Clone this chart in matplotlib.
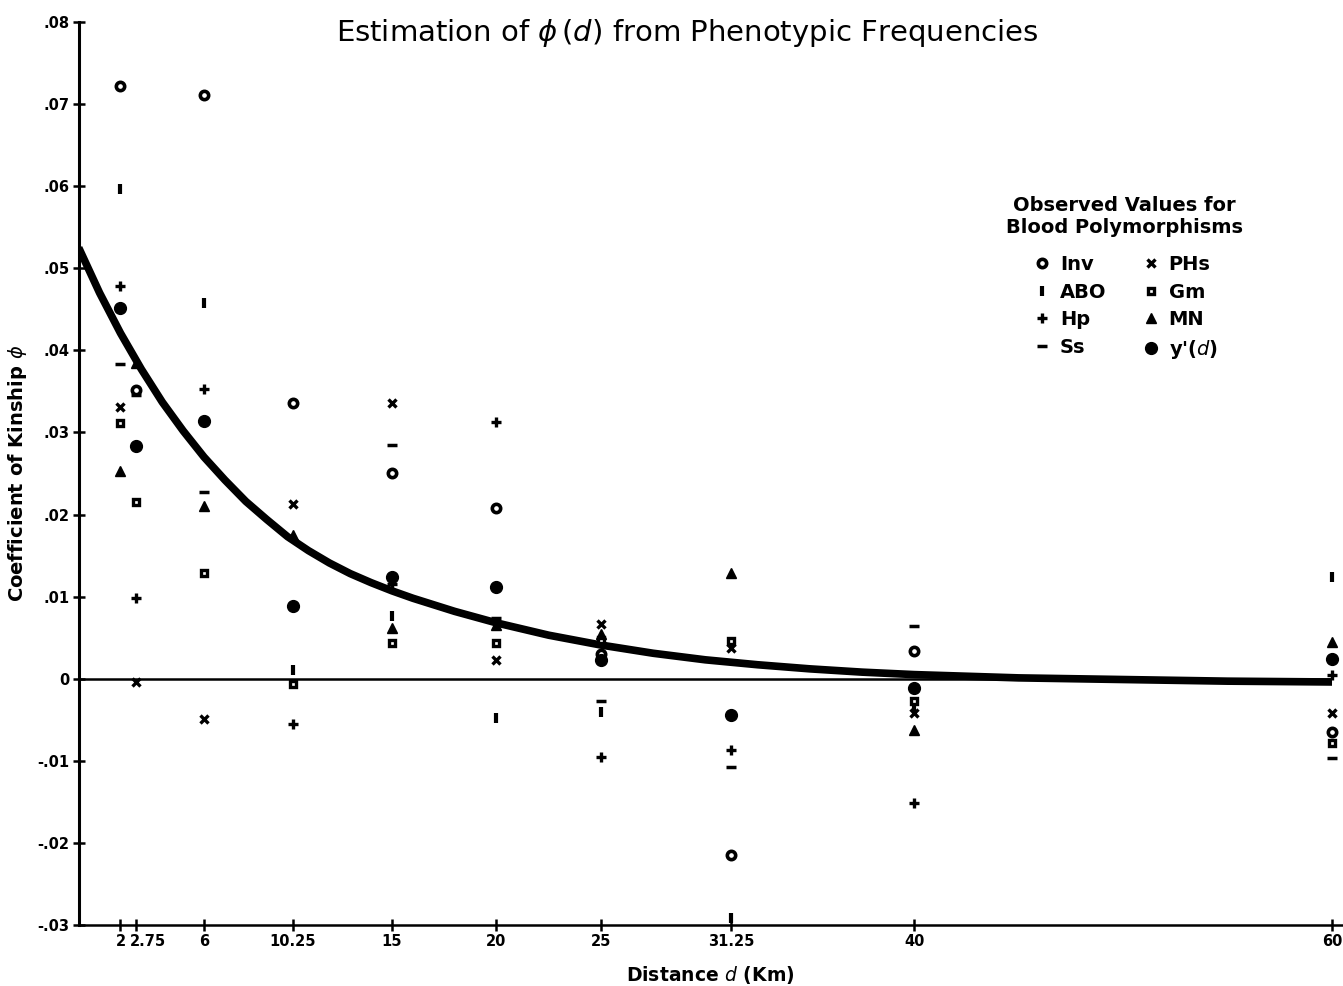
import numpy as np
from matplotlib import pyplot as plt
from matplotlib.lines import Line2D
from matplotlib import transforms

# distances (km) at which the polymorphisms were observed
distances = [2, 2.75, 6, 10.25, 15, 20, 25, 31.25, 40, 60]
nan = np.nan

# observed coefficient of kinship per blood polymorphism
inv = [.0722, .0352, .0711, .0336, .0250, .0208, .0030, -.0215, .0034, -.0065]
abo = [.0596, nan, .0458, .0010, .0076, -.0048, -.0040, -.0291, -.0035, .0124]
hp = [.0478, .0098, .0353, -.0055, .0115, .0313, -.0095, -.0087, -.0151, .0005]
ss = [.0383, .0345, .0228, nan, .0285, .0074, -.0027, -.0108, .0064, -.0096]
phs = [.0331, -.0004, -.0049, .0213, .0336, .0023, .0067, .0037, -.0042, -.0042]
gm = [.0311, .0215, .0129, -.0006, .0044, .0044, .0047, .0046, -.0027, -.0078]
mn = [.0253, .0385, .0210, .0175, .0062, .0065, .0055, .0129, -.0063, .0045]
y_prime = [.0451, .0283, .0314, .0088, .0124, .0112, .0023, -.0044, -.0011, .0024]

# fitted phi(d) curve
curve_d = [0, 1, 2, 3, 4, 5, 6, 7, 8, 9, 10, 11, 12, 13, 14, 15, 16, 17, 18, 19, 20,
           22.5, 25, 27.5, 30, 32.5, 35, 37.5, 40, 42.5, 45, 50, 55, 60]
curve_phi = [.0525, .0470, .0421, .0377, .0337, .0302, .0270, .0242, .0216, .0194, .0173,
             .0156, .0141, .0128, .0117, .0107, .0098, .0090, .0082, .0075, .0068,
             .0053, .0041, .0031, .0023, .0017, .0012, .0008, .0005, .0003, .0001,
             -.0001, -.0003, -.0004]

xtick_vals = [2, 2.75, 6, 10.25, 15, 20, 25, 31.25, 40, 60]
xtick_labels = ['2', '2.75', '6', '10.25', '15', '20', '25', '31.25', '40', '60']
ytick_vals = [.08, .07, .06, .05, .04, .03, .02, .01, 0, -.01, -.02, -.03]
ytick_labels = ['.08', '.07', '.06', '.05', '.04', '.03', '.02', '.01', '0', '-.01', '-.02', '-.03']

fig = plt.figure(figsize=(13.43, 9.86), dpi=100)
ax = fig.add_axes([0.0586, 0.0619, 0.941, 0.9158])

ax.plot(curve_d, curve_phi, color='black', lw=5.5, solid_joinstyle='round', solid_capstyle='butt', zorder=3)
ax.axhline(0, xmin=0, xmax=0.99, color='black', lw=1.8, zorder=2)

styles = [
    ('Inv', inv, dict(marker='o', ms=6, mfc='white', mec='black', mew=2.6)),
    ('ABO', abo, dict(marker='|', ms=7, mec='black', mew=3)),
    ('Hp', hp, dict(marker='+', ms=7.5, mec='black', mew=2.4)),
    ('Ss', ss, dict(marker='_', ms=7, mec='black', mew=2.5)),
    ('PHs', phs, dict(marker='x', ms=5.5, mec='black', mew=2.4)),
    ('Gm', gm, dict(marker='s', ms=5, mfc='white', mec='black', mew=2.4)),
    ('MN', mn, dict(marker='^', ms=7.5, mfc='black', mec='black', mew=1)),
    ("y'(d)", y_prime, dict(marker='o', ms=8.5, mfc='black', mec='black', mew=1)),
]
handles = []
for name, vals, st in styles:
    ax.plot(distances, vals, ls='none', clip_on=False, zorder=4, **st)
    handles.append(Line2D([], [], ls='none', **st))

ax.set_xlim(0, 60.5)
ax.set_ylim(-.03, .08)
ax.set_xticks(xtick_vals)
ax.set_xticklabels(xtick_labels)
ax.set_yticks(ytick_vals)
ax.set_yticklabels(ytick_labels)
ax.tick_params(direction='inout', length=9, width=1.8, labelsize=10.5, pad=2)
for lab in ax.get_xticklabels() + ax.get_yticklabels():
    lab.set_fontweight('bold')
# "2.75" sits just right of its tick so it does not run into "2"
lab275 = ax.get_xticklabels()[1]
lab275.set_ha('left')
lab275.set_transform(lab275.get_transform() + transforms.ScaledTranslation(-6 / 100, 0, fig.dpi_scale_trans))

for s in ['top', 'right']:
    ax.spines[s].set_visible(False)
ax.spines['left'].set_linewidth(2.2)
ax.spines['bottom'].set_linewidth(1.8)

ax.set_xlabel(r'Distance $d$ (Km)', fontsize=13.5, fontweight='bold', labelpad=11)
ax.set_ylabel(r'Coefficient of Kinship $\phi$', fontsize=14, fontweight='bold', labelpad=6)
fig.text(0.512, 0.967, r'Estimation of $\phi\,(d)$ from Phenotypic Frequencies',
         ha='center', va='center', fontsize=21)

labels = [s[0] for s in styles]
labels[-1] = r"y'($\mathit{d}$)"
leg = ax.legend(handles, labels, ncol=2, frameon=False, loc='upper left',
                bbox_to_anchor=(996 / 1343, 1 - 186 / 986), bbox_transform=fig.transFigure,
                title='Observed Values for\nBlood Polymorphisms',
                prop={'weight': 'bold', 'size': 14}, title_fontproperties={'weight': 'bold', 'size': 14},
                handletextpad=0.3, columnspacing=1.7, labelspacing=0.45, handlelength=1.2,
                borderpad=0)
leg.get_title().set_multialignment('center')
leg._legend_box.sep = 13

fig.savefig('out.png', dpi=100)
